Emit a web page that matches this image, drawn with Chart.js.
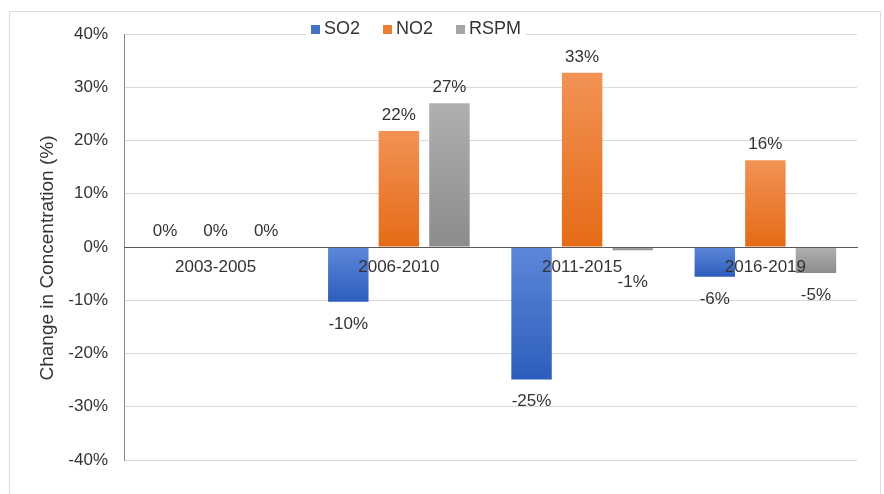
<!DOCTYPE html>
<html>
<head>
<meta charset="utf-8">
<script src="https://cdn.jsdelivr.net/npm/chart.js@4.4.1/dist/chart.umd.min.js"></script>
<style>
  html, body { margin: 0; padding: 0; background: #ffffff; }
  #wrap { width: 884px; height: 494px; }
</style>
</head>
<body>
<div id="wrap"><canvas id="chart" width="884" height="494"></canvas></div>
<script>
// Periods and percentage change in pollutant concentration
const periods = ['2003-2005', '2006-2010', '2011-2015', '2016-2019'];
const so2Change = [0, -10.3, -24.9, -5.6];
const no2Change = [0, 21.8, 32.7, 16.3];
const rspmChange = [0, 27.0, -0.6, -4.9];
const yTickValues = [-40, -30, -20, -10, 0, 10, 20, 30, 40];
const yAxisTitle = 'Change in Concentration (%)';

const FONT_FAMILY = '"Liberation Sans", Arial, Helvetica, sans-serif';
const TEXT_COLOR = '#333333';

// Vertical gradient spanning each bar from its upper to its lower edge
function barGradient(topColor, bottomColor) {
  return (c) => {
    if (c.type !== 'data') return topColor;
    const y = c.chart.scales.y;
    if (!y) return topColor;
    const v = c.raw;
    const a = y.getPixelForValue(Math.max(v, 0));
    const b = y.getPixelForValue(Math.min(v, 0));
    if (!(b > a)) return topColor;
    const g = c.chart.ctx.createLinearGradient(0, a, 0, b);
    g.addColorStop(0, topColor);
    g.addColorStop(1, bottomColor);
    return g;
  };
}

// White page with a thin frame on the left, top and right
const framePlugin = {
  id: 'frame',
  beforeDraw(chart) {
    const ctx = chart.ctx;
    ctx.save();
    ctx.fillStyle = '#ffffff';
    ctx.fillRect(0, 0, chart.width, chart.height);
    ctx.strokeStyle = '#dddddd';
    ctx.lineWidth = 1;
    ctx.beginPath();
    ctx.moveTo(9.5, chart.height);
    ctx.lineTo(9.5, 11.5);
    ctx.lineTo(880.5, 11.5);
    ctx.lineTo(880.5, chart.height);
    ctx.stroke();
    ctx.restore();
  }
};

// Percentage labels at the end of every bar
const valueLabelPlugin = {
  id: 'valueLabels',
  afterDatasetsDraw(chart) {
    const ctx = chart.ctx;
    const zero = chart.scales.y.getPixelForValue(0);
    ctx.save();
    ctx.font = '17px ' + FONT_FAMILY;
    ctx.fillStyle = TEXT_COLOR;
    ctx.textAlign = 'center';
    ctx.textBaseline = 'middle';
    chart.data.datasets.forEach((ds, i) => {
      const meta = chart.getDatasetMeta(i);
      meta.data.forEach((bar, j) => {
        const v = ds.data[j];
        const ty = v >= 0 ? bar.y - 16 : Math.max(bar.y + 22, zero + 35);
        const r = Math.round(v);
        ctx.fillText((r === 0 ? 0 : r) + '%', bar.x, ty);
      });
    });
    ctx.restore();
  }
};

// Series key along the top edge, sitting over the top gridline
const topLegendPlugin = {
  id: 'topLegend',
  afterDraw(chart) {
    const ctx = chart.ctx;
    ctx.save();
    ctx.font = '18px ' + FONT_FAMILY;
    ctx.textBaseline = 'middle';
    ctx.textAlign = 'left';
    const items = chart.data.datasets.map(d => ({ text: d.label, color: d.legendColor }));
    const sw = 9, textGap = 13, itemGap = 23, cy = 29;
    const widths = items.map(it => ctx.measureText(it.text).width);
    let total = 0;
    widths.forEach((w, i) => { total += textGap + w + (i < widths.length - 1 ? itemGap : 0); });
    let x = 311;
    ctx.fillStyle = '#ffffff';
    ctx.fillRect(x - 5, cy - 8, total + 10, 17);
    items.forEach((it, i) => {
      ctx.fillStyle = it.color;
      ctx.fillRect(x, cy - 4, sw, sw);
      ctx.fillStyle = TEXT_COLOR;
      ctx.fillText(it.text, x + textGap, cy);
      x += textGap + widths[i] + itemGap;
    });
    ctx.restore();
  }
};

// Rotated value-axis title
const axisTitlePlugin = {
  id: 'axisTitle',
  afterDraw(chart) {
    const ctx = chart.ctx;
    ctx.save();
    ctx.font = '19px ' + FONT_FAMILY;
    ctx.fillStyle = TEXT_COLOR;
    ctx.textAlign = 'center';
    ctx.textBaseline = 'middle';
    ctx.translate(48, 258);
    ctx.rotate(-Math.PI / 2);
    ctx.fillText(yAxisTitle, 0, 0);
    ctx.restore();
  }
};

new Chart(document.getElementById('chart'), {
  type: 'bar',
  data: {
    labels: periods,
    datasets: [
      {
        label: 'SO2',
        data: so2Change,
        legendColor: '#4472c4',
        backgroundColor: barGradient('#5d87d8', '#2d5dbd'),
        borderWidth: 0
      },
      {
        label: 'NO2',
        data: no2Change,
        legendColor: '#ed7d31',
        backgroundColor: barGradient('#f29255', '#e56b16'),
        borderWidth: 0
      },
      {
        label: 'RSPM',
        data: rspmChange,
        legendColor: '#a5a5a5',
        backgroundColor: barGradient('#b0b0b0', '#8c8c8c'),
        borderWidth: 0
      }
    ]
  },
  options: {
    responsive: false,
    animation: false,
    layout: { padding: { top: 34, bottom: 34, left: 0, right: 27 } },
    datasets: { bar: { categoryPercentage: 0.828, barPercentage: 0.8 } },
    plugins: {
      legend: { display: false },
      tooltip: { enabled: false }
    },
    scales: {
      x: {
        position: { y: 0 },
        grid: { display: false, drawTicks: false },
        border: { display: true, color: '#595959', width: 1, z: 1 },
        ticks: {
          z: 1,
          padding: 10,
          maxRotation: 0,
          autoSkip: false,
          color: TEXT_COLOR,
          font: { family: FONT_FAMILY, size: 17 }
        },
        afterFit(scale) { scale.height = 0; }
      },
      y: {
        min: -40,
        max: 40,
        afterBuildTicks(scale) { scale.ticks = yTickValues.map(v => ({ value: v })); },
        grid: { color: '#d9d9d9', drawTicks: false },
        border: { display: true, color: '#868686', width: 1 },
        ticks: {
          padding: 16,
          color: TEXT_COLOR,
          font: { family: FONT_FAMILY, size: 17 },
          callback: (v) => v + '%'
        },
        afterFit(scale) { scale.width = 124; }
      }
    }
  },
  plugins: [framePlugin, valueLabelPlugin, topLegendPlugin, axisTitlePlugin]
});
</script>
</body>
</html>
